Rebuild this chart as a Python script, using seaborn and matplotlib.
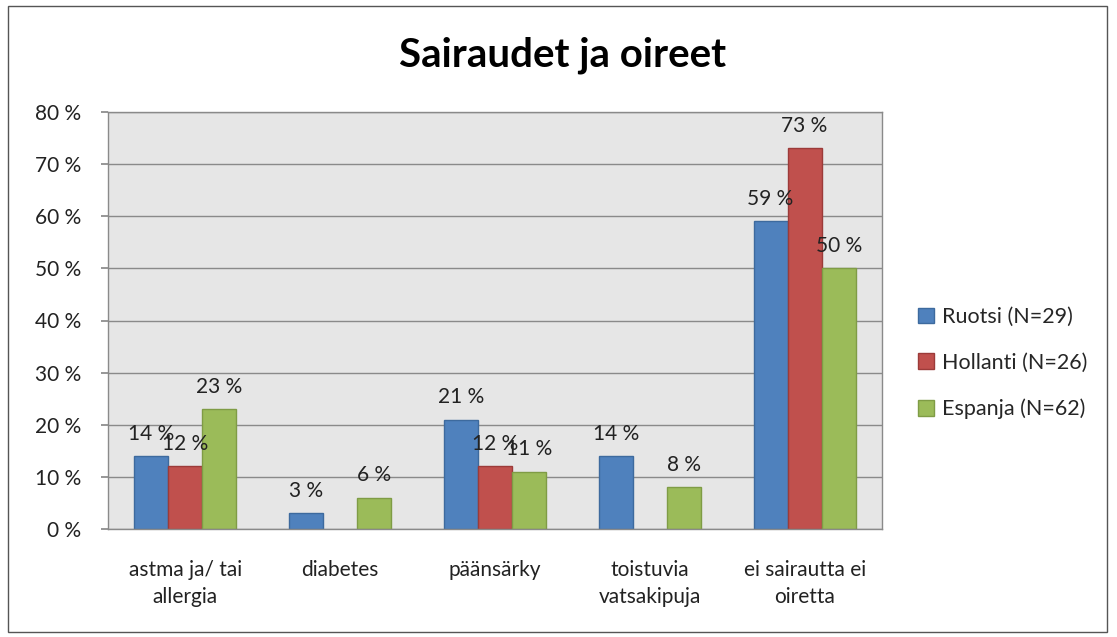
import matplotlib
matplotlib.use("Agg")
import matplotlib.pyplot as plt
import seaborn as sns
import pandas as pd
from matplotlib.patches import Rectangle

categories = ["astma ja/ tai\nallergia", "diabetes", "päänsärky", "toistuvia\nvatsakipuja", "ei sairautta ei\noiretta"]
series = ["Ruotsi (N=29)", "Hollanti (N=26)", "Espanja (N=62)"]
ruotsi = [14, 3, 21, 14, 59]
hollanti = [12, 0, 12, 0, 73]
espanja = [23, 6, 11, 8, 50]
colors = ["#4f81bd", "#c0504d", "#9bbb59"]
edges = ["#3d6a9e", "#9c3b39", "#7f9c45"]
yticks = [0, 10, 20, 30, 40, 50, 60, 70, 80]

rows = []
for s, vals in zip(series, [ruotsi, hollanti, espanja]):
    for c, v in zip(categories, vals):
        rows.append({"cat": c, "series": s, "val": v})
df = pd.DataFrame(rows)

sns.set_theme(style="white")
plt.rcParams["font.family"] = ["Lato", "DejaVu Sans"]

fig = plt.figure(figsize=(11.17, 6.37), dpi=100)
ax = fig.add_axes([108/1117, 1-529/637, (882-108)/1117, (529-112)/637])

sns.barplot(data=df, x="cat", y="val", hue="series", palette=colors,
            width=0.66, ax=ax, saturation=1, legend=True)

for cont, ec in zip(ax.containers, edges):
    for p in cont:
        p.set_edgecolor(ec)
        p.set_linewidth(1 if p.get_height() > 0 else 0)
    labels = [f"{int(v)} %" if v > 0 else "" for v in cont.datavalues]
    ax.bar_label(cont, labels=labels, padding=9, fontsize=15, color="#222222")

ax.set_facecolor("#e6e6e6")
ax.set_ylim(0, 80)
ax.set_yticks(yticks)
ax.set_yticklabels([f"{t} %" for t in yticks], fontsize=15, color="#222222")
ax.yaxis.grid(True, color="#8a8a8a", linewidth=1)
ax.set_axisbelow(True)
ax.tick_params(axis="y", which="both", left=True, length=5, color="#8a8a8a", pad=14)
ax.tick_params(axis="x", length=0, pad=22, labelsize=15, labelcolor="#222222")
for lbl in ax.get_xticklabels():
    lbl.set_linespacing(1.45)
ax.set_xlabel("")
ax.set_ylabel("")
for sp in ax.spines.values():
    sp.set_color("#8a8a8a")
    sp.set_linewidth(1)

leg = ax.legend(loc="center left", bbox_to_anchor=(1.035, 0.398), frameon=False,
                fontsize=15.5, handlelength=0.75, handleheight=0.75, labelspacing=1.2,
                handletextpad=0.4, borderaxespad=0)
for h, ec in zip(leg.legend_handles, edges):
    h.set_edgecolor(ec)

fig.text(563/1117, 1-55/637, "Sairaudet ja oireet", ha="center", va="center",
         fontsize=29, fontweight="bold", color="black")

fig.patches.append(Rectangle((8/1117, 5/637), 1099/1117, 626/637, transform=fig.transFigure,
                             fill=False, edgecolor="#555555", linewidth=1))

fig.savefig("out.png", dpi=100, facecolor="white")
